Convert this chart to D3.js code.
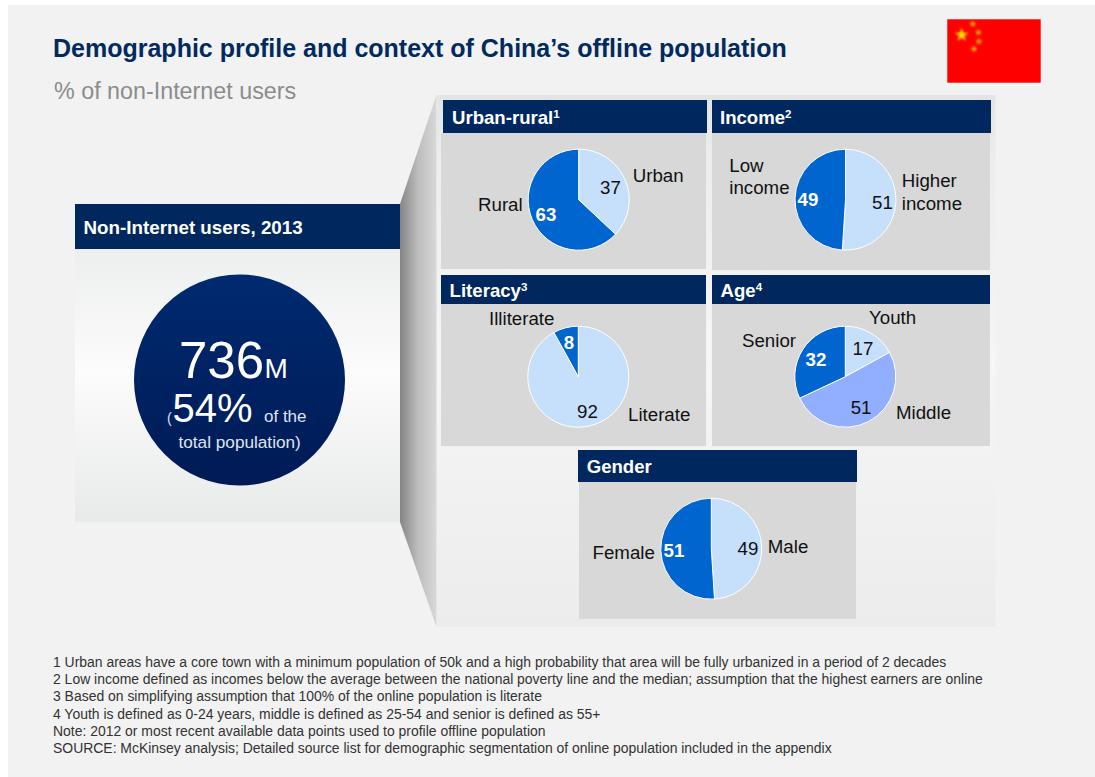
<!DOCTYPE html>
<html>
<head>
<meta charset="utf-8">
<script src="https://cdn.jsdelivr.net/npm/d3@7/dist/d3.min.js"></script>
<style>
html,body{margin:0;padding:0;background:#fff;}
svg{display:block;}
text{font-family:"Liberation Sans",Arial,sans-serif;}
</style>
</head>
<body>
<svg id="c" width="1095" height="777"></svg>
<script>
// ---- data ----
const titleText = "Demographic profile and context of China\u2019s offline population";
const subtitleText = "% of non-Internet users";
const totalHeader = "Non-Internet users, 2013";
const totalMillions = 736;
const totalShare = 54;
const panelNames = ["Urban-rural","Income","Literacy","Age","Gender"];
const panelNotes = ["1","2","3","4",""];
const urbanCats = ["Urban","Rural"];
const urbanVals = [37,63];
const incomeCats = ["Higher income","Low income"];
const incomeVals = [51,49];
const literacyCats = ["Literate","Illiterate"];
const literacyVals = [92,8];
const ageCats = ["Youth","Middle","Senior"];
const ageVals = [17,51,32];
const genderCats = ["Male","Female"];
const genderVals = [49,51];
const footnotes = [
 "1 Urban areas have a core town with a minimum population of 50k and a high probability that area will be fully urbanized in a period of 2 decades",
 "2 Low income defined as incomes below the average between the national poverty line and the median; assumption that the highest earners are online",
 "3 Based on simplifying assumption that 100% of the online population is literate",
 "4 Youth is defined as 0-24 years, middle is defined as 25-54 and senior is defined as 55+",
 "Note: 2012 or most recent available data points used to profile offline population",
 "SOURCE: McKinsey analysis; Detailed source list for demographic segmentation of online population included in the appendix"
];
const seriesByPanel = [[urbanCats,urbanVals],[incomeCats,incomeVals],[literacyCats,literacyVals],[ageCats,ageVals],[genderCats,genderVals]];

// ---- layout (separate from data) ----
const panelBoxes = [
 {hx:443,hw:264,hy:100,hh:33,bx:441,bw:265,by:133,bb:269,tx:452,ty:124,cx:578.7,cy:199.7},
 {hx:712,hw:279,hy:100,hh:33,bx:712,bw:278,by:133,bb:270,tx:720,ty:124,cx:845.5,cy:199.7},
 {hx:441,hw:265,hy:275,hh:29,bx:441,bw:265,by:304,bb:446,tx:449.6,ty:297,cx:578.3,cy:376.7},
 {hx:712,hw:278,hy:275,hh:29,bx:712,bw:278,by:304,bb:446,tx:720.5,ty:297,cx:845.3,cy:376.7},
 {hx:578,hw:279,hy:450,hh:32,bx:579,bw:277,by:482,bb:619,tx:586.7,ty:473,cx:711.3,cy:548.7}
];
const pieRadius = 50.5;
const sliceColors = [
 ["#c6dffb","#0065ce"],
 ["#c6dffb","#0065ce"],
 ["#c6dffb","#0065ce"],
 ["#c6dffb","#91aeff","#0065ce"],
 ["#c6dffb","#0065ce"]
];
const valuePos = [
 [[600,194],[535.6,221]],
 [[872,209],[797.6,205.7]],
 [[577,418],[563.8,348.7]],
 [[852.5,354.7],[850.7,414],[805.6,365.7]],
 [[737.6,555],[663.5,557]]
];
const namePos = [
 [[[632.7,181.7]],[[478,211]]],
 [[[901.8,187],[901.8,210]],[[729.3,172],[729.3,194]]],
 [[[628,421]],[[489,325]]],
 [[[869,324]],[[896,419]],[[742,347]]],
 [[[767.8,553]],[[592.5,558.7]]]
];
const footY = [666.7,683.7,700.7,718.7,735.7,752.7];

const svg = d3.select("#c");
const defs = svg.append("defs");
function grad(id,x1,y1,x2,y2,stops){
  const g = defs.append("linearGradient").attr("id",id).attr("x1",x1).attr("y1",y1).attr("x2",x2).attr("y2",y2);
  stops.forEach(s=>g.append("stop").attr("offset",s[0]).attr("stop-color",s[1]));
}
grad("gLeft",0,0,0,1,[[0,"#edefee"],[0.45,"#fbfcfb"],[1,"#e8eae9"]]);
grad("gRight",0,0,0,1,[[0,"#e3e4e4"],[0.12,"#eceeed"],[0.5,"#f5f6f5"],[1,"#ececec"]]);
grad("gCircle",0,0,0,1,[[0,"#002a70"],[1,"#001a55"]]);
grad("gFunnel",0,0,1,0,[[0,"#858585"],[0.5,"#bdbdbd"],[1,"#d8d8d8"]]);
defs.append("filter").attr("id","soft").append("feGaussianBlur").attr("stdDeviation",1);

// page
svg.append("rect").attr("x",8).attr("y",5).attr("width",1087).attr("height",772).attr("fill","#f2f2f2");

// title
svg.append("text").attr("x",53).attr("y",57).attr("font-size",25).attr("font-weight",700).attr("fill","#002a60").text(titleText);
svg.append("text").attr("x",54).attr("y",99).attr("font-size",23.3).attr("fill","#8c8c8c").text(subtitleText);

// flag
const flag = svg.append("g");
flag.append("rect").attr("x",947.3).attr("y",19.3).attr("width",93.4).attr("height",63.4).attr("fill","#fe0000");
const starBig = d3.symbol().type(d3.symbolStar).size(60);
const starSmall = d3.symbol().type(d3.symbolStar).size(16);
flag.append("path").attr("d",starBig()).attr("transform","translate(961.7,35)").attr("fill","#ffe000").attr("filter","url(#soft)");
[[972.7,24],[978.5,32.5],[979,41.5],[974,49]].forEach(p=>{
  flag.append("path").attr("d",starSmall()).attr("transform",`translate(${p[0]},${p[1]})`).attr("fill","#ffc000").attr("filter","url(#soft)");
});

// funnel and right backing
svg.append("rect").attr("x",437).attr("y",95).attr("width",558.5).attr("height",532).attr("fill","url(#gRight)");
svg.append("path").attr("d",d3.line()([[400,204],[436.5,95],[436.5,627],[400,522]])+"Z").attr("fill","url(#gFunnel)");

// left panel
svg.append("rect").attr("x",75).attr("y",249).attr("width",325).attr("height",273).attr("fill","url(#gLeft)");
svg.append("rect").attr("x",75).attr("y",204).attr("width",325).attr("height",45).attr("fill","#00285e");
svg.append("text").attr("x",83.5).attr("y",234).attr("font-size",18.8).attr("font-weight",700).attr("fill","#fff").text(totalHeader);
svg.append("circle").attr("cx",239.5).attr("cy",380).attr("r",105.5).attr("fill","url(#gCircle)");
const ct = svg.append("g").attr("fill","#fff");
ct.append("text").attr("x",179).attr("y",377.7).attr("font-size",51).text(totalMillions);
ct.append("text").attr("x",264.5).attr("y",377.7).attr("font-size",28).text("M");
ct.append("text").attr("x",167).attr("y",423).attr("font-size",14).attr("fill","#dfe4ee").text("(");
ct.append("text").attr("x",172.5).attr("y",422).attr("font-size",40).text(totalShare+"%");
ct.append("text").attr("x",264).attr("y",422).attr("font-size",17).attr("fill","#dfe4ee").text("of the");
ct.append("text").attr("x",178.5).attr("y",448).attr("font-size",17.2).attr("fill","#dfe4ee").text("total population)");

// panels
const pie = d3.pie().sort(null).value(d=>d);
const arc = d3.arc().innerRadius(0).outerRadius(pieRadius);
panelBoxes.forEach((b,i)=>{
  const g = svg.append("g");
  g.append("rect").attr("x",b.bx).attr("y",b.by).attr("width",b.bw).attr("height",b.bb-b.by).attr("fill","#d8d8d8");
  g.append("rect").attr("x",b.hx).attr("y",b.hy).attr("width",b.hw).attr("height",b.hh).attr("fill","#00285e");
  const t = g.append("text").attr("x",b.tx).attr("y",b.ty).attr("font-size",18.6).attr("font-weight",700).attr("fill","#fff").text(panelNames[i]);
  if(panelNotes[i]) t.append("tspan").attr("dy",-6).attr("font-size",11.5).text(panelNotes[i]);

  const [cats,vals] = seriesByPanel[i];
  const color = d3.scaleOrdinal().domain(cats).range(sliceColors[i]);
  const pg = g.append("g").attr("transform",`translate(${b.cx},${b.cy})`);
  pg.selectAll("path").data(pie(vals)).join("path")
    .attr("d",arc).attr("fill",(d,k)=>color(cats[k]))
    .attr("stroke","#fff").attr("stroke-width",1);

  vals.forEach((v,k)=>{
    const p = valuePos[i][k];
    const dark = sliceColors[i][k]==="#0065ce";
    g.append("text").attr("x",p[0]).attr("y",p[1]).attr("font-size",18.7)
      .attr("font-weight",dark?700:400).attr("fill",dark?"#fff":"#111").text(v);
    const lines = namePos[i][k];
    const words = lines.length>1 ? cats[k].split(" ") : [cats[k]];
    lines.forEach((q,m)=>{
      g.append("text").attr("x",q[0]).attr("y",q[1]).attr("font-size",18.7).attr("fill","#111").text(words[m]);
    });
  });
});

// footnotes
svg.append("g").selectAll("text").data(footnotes).join("text")
  .attr("x",53).attr("y",(d,i)=>footY[i]).attr("font-size",13.95).attr("fill","#333").text(d=>d);
</script>
</body>
</html>
